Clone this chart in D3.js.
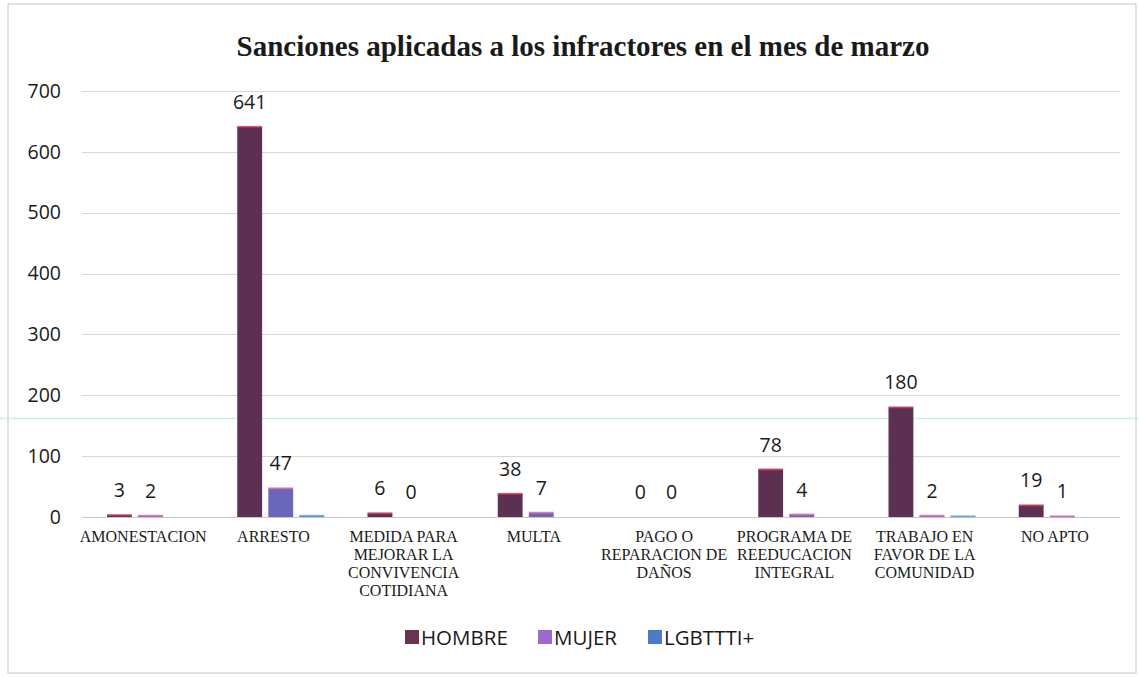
<!DOCTYPE html>
<html>
<head>
<meta charset="utf-8">
<script src="https://cdn.jsdelivr.net/npm/d3@7"></script>
<style>
  body { margin: 0; background: #fff; }
  svg { display: block; }
</style>
</head>
<body>
<svg id="chart" width="1139" height="677"></svg>
<script>
var categories = [
  ["AMONESTACION"],
  ["ARRESTO"],
  ["MEDIDA PARA", "MEJORAR LA", "CONVIVENCIA", "COTIDIANA"],
  ["MULTA"],
  ["PAGO O", "REPARACION DE", "DAÑOS"],
  ["PROGRAMA DE", "REEDUCACION", "INTEGRAL"],
  ["TRABAJO EN", "FAVOR DE LA", "COMUNIDAD"],
  ["NO APTO"]
];
var hombre = [3, 641, 6, 38, 0, 78, 180, 19];
var mujer = [2, 47, 0, 7, 0, 4, 2, 1];
var lgbt = [0, 2, 0, 0, 0, 0, 1, 0];
var seriesNames = ["HOMBRE", "MUJER", "LGBTTTI+"];
var yTicks = [0, 100, 200, 300, 400, 500, 600, 700];

var colors = ["#5c3050", "#6a66bc", "#4b7bc4"];
var legendColors = ["#6a3350", "#9a6ad0", "#4b7bc8"];
var topEdge = ["#c8305a", "#d864b0", "#6fa0e0"];

var svg = d3.select("#chart");

// page border from the scan
svg.append("rect")
    .attr("x", 8).attr("y", 4)
    .attr("width", 1128).attr("height", 669)
    .attr("fill", "none")
    .attr("stroke", "#c4c4c4");

var x = d3.scaleBand()
    .domain(d3.range(categories.length))
    .range([78, 1120]);

var y = d3.scaleLinear()
    .domain([0, 700])
    .range([517, 91]);

var inner = d3.scaleBand()
    .domain([0, 1, 2])
    .range([29, 116])
    .paddingInner(0.2);

// gridlines
svg.append("g")
  .selectAll("line")
    .data(yTicks)
  .enter().append("line")
    .attr("x1", 82).attr("x2", 1120)
    .attr("y1", function(d){ return Math.round(y(d)) + 0.5; })
    .attr("y2", function(d){ return Math.round(y(d)) + 0.5; })
    .attr("stroke", function(d){ return d == 0 ? "#c8c8c8" : "#d6d6d6"; })
    .attr("stroke-width", 1);

// y axis labels
var yAxis = d3.axisLeft(y).tickValues(yTicks).tickSize(0).tickPadding(0);
var gy = svg.append("g")
    .attr("transform", "translate(61,0)")
    .call(yAxis);
gy.select(".domain").remove();
gy.selectAll("text")
    .attr("font-family", "'Open Sans', sans-serif")
    .attr("font-size", 19.5)
    .attr("fill", "#1a1a1a");

// title
svg.append("text")
    .attr("x", 583).attr("y", 56)
    .attr("text-anchor", "middle")
    .attr("font-family", "'Liberation Serif', 'DejaVu Serif', serif")
    .attr("font-weight", "bold")
    .attr("font-size", 29)
    .attr("fill", "#1a1a1a")
    .text("Sanciones aplicadas a los infractores en el mes de marzo");

// scan artifact line
svg.append("line")
    .attr("x1", 0).attr("x2", 1139)
    .attr("y1", 418.5).attr("y2", 418.5)
    .attr("stroke", "#c6eff2")
    .attr("stroke-width", 1.5);

var series = [hombre, mujer, lgbt];

series.forEach(function(vals, s) {
  var g = svg.append("g");
  g.selectAll("rect.bar")
      .data(vals)
    .enter().append("rect")
      .attr("class", "bar")
      .attr("x", function(d, i){ return x(i) + inner(s); })
      .attr("width", inner.bandwidth())
      .attr("y", function(d){ return y(d); })
      .attr("height", function(d){ return y(0) - y(d); })
      .attr("fill", colors[s]);
  g.selectAll("rect.edge")
      .data(vals)
    .enter().append("rect")
      .attr("class", "edge")
      .attr("x", function(d, i){ return x(i) + inner(s); })
      .attr("width", inner.bandwidth())
      .attr("y", function(d){ return y(d) - 1; })
      .attr("height", function(d){ return d > 0 ? 2 : 0; })
      .attr("fill", topEdge[s])
      .attr("opacity", 0.8);
  if (s < 2) {
    g.selectAll("text")
        .data(vals)
      .enter().append("text")
        .attr("x", function(d, i){ return x(i) + inner(s) + inner.bandwidth() / 2; })
        .attr("y", function(d){ return y(d) - 18; })
        .attr("text-anchor", "middle")
        .attr("font-family", "'Open Sans', sans-serif")
        .attr("font-size", 19.5)
        .attr("fill", "#1a1a1a")
        .text(function(d){ return d; });
  }
});

// category labels
var cat = svg.append("g").selectAll("text")
    .data(categories)
  .enter().append("text")
    .attr("text-anchor", "middle")
    .attr("font-family", "'Liberation Serif', 'DejaVu Serif', serif")
    .attr("font-size", 16)
    .attr("fill", "#1a1a1a")
    .attr("transform", function(d, i){ return "translate(" + (x(i) + x.bandwidth() / 2) + ",542)"; });
cat.selectAll("tspan")
    .data(function(d){ return d; })
  .enter().append("tspan")
    .attr("x", 0)
    .attr("y", function(d, j){ return j * 18; })
    .text(function(d){ return d; });

// legend
var legendX = [405, 538, 648];
var legend = svg.append("g").selectAll("g")
    .data(seriesNames)
  .enter().append("g")
    .attr("transform", function(d, i){ return "translate(" + legendX[i] + ",630)"; });
legend.append("rect")
    .attr("width", 14).attr("height", 14)
    .attr("fill", function(d, i){ return legendColors[i]; });
legend.append("text")
    .attr("x", 16).attr("y", 14.5)
    .attr("font-family", "'Open Sans', sans-serif")
    .attr("font-size", 20.5)
    .attr("fill", "#1a1a1a")
    .text(function(d){ return d; });
</script>
</body>
</html>
